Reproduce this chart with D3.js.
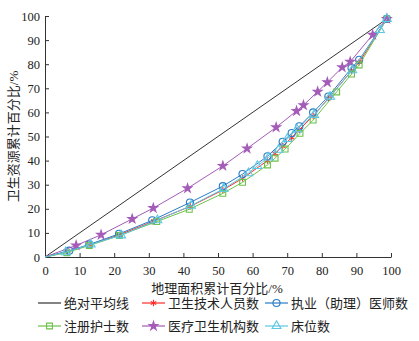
<!DOCTYPE html>
<html>
<head>
<meta charset="utf-8">
<script src="https://cdn.jsdelivr.net/npm/d3@7"></script>
<style>
  body { margin: 0; background: #fff; }
  text { font-family: "Liberation Serif", "Noto Sans CJK SC", serif; }
</style>
</head>
<body>
<div id="chart"></div>
<script>
// tick values
const xTicks = [0, 10, 20, 30, 40, 50, 60, 70, 80, 90, 100];
const yTicks = [0, 10, 20, 30, 40, 50, 60, 70, 80, 90, 100];

// series (x = 地理面积累计百分比, y = 卫生资源累计百分比)
const equalX = [0, 98.8];
const equalY = [0, 98.8];

const techX = [0, 6.5, 13, 21.5, 31.5, 42, 51.4, 57.1, 64.3, 66.5, 68.7, 71.3, 73.5, 77.5, 81.9, 88.6, 90.8, 98.8];
const techY = [0, 2.3, 5, 9.2, 14.9, 21, 27.8, 32.6, 40, 43, 46, 49.5, 52.8, 58.5, 65.8, 77.3, 80.8, 98.8];

const docX = [0, 7, 12.8, 21.4, 31, 41.9, 51.4, 57.1, 64.3, 68.7, 71.3, 73.5, 77.5, 81.9, 88.6, 90.8, 98.8];
const docY = [0, 2.6, 5.2, 9.6, 15.2, 22.6, 29.4, 34.4, 41.8, 47.8, 51.4, 54.2, 60, 66.6, 78.4, 81.8, 98.8];

const nurseX = [0, 6.3, 12.8, 21.5, 32.3, 41.7, 51.4, 57.1, 64.3, 66.5, 69.4, 73.7, 77.5, 84.3, 88.6, 90.8, 98.8];
const nurseY = [0, 1.8, 4.8, 8.9, 14.7, 19.8, 26.4, 31, 38.2, 41, 44.8, 51.3, 56.8, 68.5, 75.9, 79.7, 98.8];

const instX = [0, 9, 16.2, 25.2, 31.3, 41.2, 51.4, 58.4, 66.8, 72.7, 74.7, 78.8, 81.6, 85.9, 88.2, 94.7, 98.8];
const instY = [0, 4.8, 9.2, 15.8, 20.3, 28.5, 37.8, 45, 53.8, 60.6, 63, 68.6, 72.5, 78.7, 81, 92.2, 98.8];

const bedX = [0, 6, 13.2, 22, 32.5, 42.2, 51.6, 58.8, 61.4, 64.6, 67.5, 70, 72.8, 77.8, 82.4, 88.8, 96.8, 98.8];
const bedY = [0, 2, 5.2, 9, 15.3, 21.3, 28.3, 34.8, 37.8, 41.3, 44.5, 49, 53, 59, 66.5, 77.5, 94.2, 98.8];

const seriesNames = ['绝对平均线', '卫生技术人员数', '执业（助理）医师数', '注册护士数', '医疗卫生机构数', '床位数'];

const series = [
    { name: seriesNames[0], xs: equalX, ys: equalY, color: '#333333', symbol: null },
    { name: seriesNames[1], xs: techX, ys: techY, color: '#ff2a2a', symbol: d3.symbolAsterisk, size: 28, fill: false },
    { name: seriesNames[2], xs: docX, ys: docY, color: '#2a7cc6', symbol: d3.symbolCircle, size: 40, fill: false },
    { name: seriesNames[3], xs: nurseX, ys: nurseY, color: '#6cc24a', symbol: d3.symbolSquare, size: 34, fill: false },
    { name: seriesNames[4], xs: instX, ys: instY, color: '#a45cb8', symbol: d3.symbolStar, size: 24, fill: true },
    { name: seriesNames[5], xs: bedX, ys: bedY, color: '#5cc8e2', symbol: d3.symbolTriangle, size: 34, fill: false }
];

//Margins
const margin = { top: 16, right: 28, bottom: 84, left: 45 };
const width = 419 - margin.left - margin.right;
const height = 341 - margin.top - margin.bottom;

const svg = d3.select('#chart')
    .append('svg')
    .attr('width', 419)
    .attr('height', 341);

const g = svg.append('g')
    .attr('transform', 'translate(' + margin.left + ',' + margin.top + ')');

//Scales
const x = d3.scaleLinear().domain([0, 100]).range([0, width]);
const y = d3.scaleLinear().domain([0, 100]).range([height, 0]);

//X Axis (ticks point inward)
const xAxis = g.append('g')
    .attr('transform', 'translate(0,' + height + ')')
    .call(d3.axisBottom(x).tickValues(xTicks).tickSizeInner(-4).tickSizeOuter(0).tickPadding(9));

//Y Axis
const yAxis = g.append('g')
    .call(d3.axisLeft(y).tickValues(yTicks).tickSizeInner(-4).tickSizeOuter(0).tickPadding(5));

[xAxis, yAxis].forEach(a => {
    a.select('.domain').attr('stroke', '#333');
    a.selectAll('.tick line').attr('stroke', '#333');
    a.selectAll('text')
        .attr('fill', '#222')
        .style('font-size', '12.5px')
        .style('font-family', '"Liberation Serif", serif');
});

//Axis titles
g.append('text')
    .text('地理面积累计百分比/%')
    .attr('x', width / 2 - 1)
    .attr('y', height + 36)
    .attr('text-anchor', 'middle')
    .attr('fill', '#222')
    .style('font-size', '13px');

g.append('text')
    .text('卫生资源累计百分比/%')
    .attr('transform', 'rotate(-90)')
    .attr('x', -height / 2)
    .attr('y', -27)
    .attr('text-anchor', 'middle')
    .attr('fill', '#222')
    .style('font-size', '13px');

//Lines and markers
const line = d3.line().x(d => x(d[0])).y(d => y(d[1]));

series.forEach(s => {
    const pts = s.xs.map((v, i) => [v, s.ys[i]]);
    g.append('path')
        .datum(pts)
        .attr('d', line)
        .attr('fill', 'none')
        .attr('stroke', s.color)
        .attr('stroke-width', 1);

    if (s.symbol) {
        g.selectAll(null)
            .data(pts.slice(1))
            .join('path')
            .attr('transform', d => 'translate(' + x(d[0]) + ',' + y(d[1]) + ')')
            .attr('d', d3.symbol().type(s.symbol).size(s.size))
            .attr('fill', s.fill ? s.color : 'none')
            .attr('stroke', s.color)
            .attr('stroke-width', 1.1);
    }
});

//Legend
const legendCols = [38, 142, 265];
const legendRows = [303, 326];

const legend = svg.selectAll('.legendItem')
    .data(series)
    .join('g')
    .attr('class', 'legendItem')
    .attr('transform', (d, i) => 'translate(' + legendCols[i % 3] + ',' + legendRows[Math.floor(i / 3)] + ')');

legend.append('line')
    .attr('x1', 0)
    .attr('x2', 23)
    .attr('y1', 0)
    .attr('y2', 0)
    .attr('stroke', d => d.color)
    .attr('stroke-width', 1.2);

legend.filter(d => d.symbol)
    .append('path')
    .attr('transform', 'translate(11.5,0)')
    .attr('d', d => d3.symbol().type(d.symbol).size(d.size)())
    .attr('fill', d => d.fill ? d.color : 'none')
    .attr('stroke', d => d.color)
    .attr('stroke-width', 1.1);

legend.append('text')
    .text(d => d.name)
    .attr('x', 26)
    .attr('y', 0)
    .attr('dy', '0.35em')
    .attr('fill', '#222')
    .style('font-size', '13px');
</script>
</body>
</html>
